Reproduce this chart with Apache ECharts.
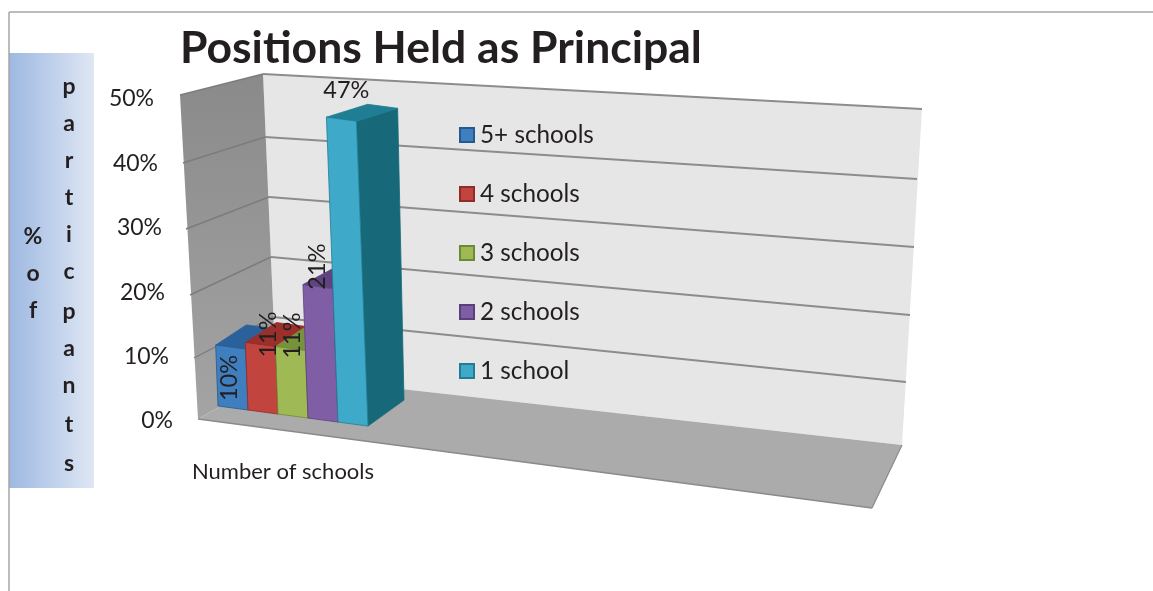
<!DOCTYPE html>
<html>
<head>
<meta charset="utf-8">
<style>html,body{margin:0;padding:0;background:#fff}#c{width:1153px;height:591px}</style>
<script src="https://cdn.jsdelivr.net/npm/echarts@6/dist/echarts.min.js"></script>
</head>
<body>
<div id="c"></div>
<script>
// ---- data ----
const categories = ['5+ schools', '4 schools', '3 schools', '2 schools', '1 school'];
const percentValues = [10, 11, 11, 21, 47];
const tickLabels = ['0%', '10%', '20%', '30%', '40%', '50%'];
const chartTitle = 'Positions Held as Principal';
const yTitleLeft = ['%', 'o', 'f'];
const yTitleRight = ['p', 'a', 'r', 't', 'i', 'c', 'p', 'a', 'n', 't', 's'];
const xTitle = 'Number of schools';

// ---- style ----
const FONT = 'Lato, "Open Sans", sans-serif';
const INK = '#231f20';
const palette = [
  { front: '#3f7fbf', top: '#2b619b', side: '#2b619b', edge: '#25598f' },
  { front: '#c2443f', top: '#9b2f2c', side: '#9b2f2c', edge: '#8f2b28' },
  { front: '#9fba55', top: '#76923c', side: '#76923c', edge: '#6c8a35' },
  { front: '#7f5ea6', top: '#5f4481', side: '#5f4481', edge: '#5a3f7d' },
  { front: '#3ea9c8', top: '#1f7d94', side: '#176979', edge: '#1f7d94' }
];
const labelNudge = [[-1, 31], [8, -10], [2, -13], [-1, -20], [5, -29]];
const labelTurn = [Math.PI / 2, Math.PI / 2, Math.PI / 2, Math.PI / 2, 0];
const axisNudge = { 0: 45, 10: 49, 20: 53, 30: 56, 40: 60, 50: 64 };

// chart chrome: the oblique box the columns stand in
const wallFront = [[198, 419], [194, 358], [190, 295], [186, 229], [183, 163], [180, 95]];
const wallBack = [[276, 375], [273, 317], [271, 257], [269, 197], [265, 137], [263, 74]];
const wallRight = [[902, 445], [906, 382], [910, 315], [914, 247], [917, 179], [922, 109]];
const floorCorner = [872, 508];

const GRID = { left: 218, top: 97, width: 150, height: 322 };
const SLOPE = 0.134, LIFT = -13, LEAN = 0.038, HEIGHT_GAIN = 1.024, HEIGHT_TRIM = 5;

function renderBar(i) {
  return function (params, api) {
    const c = palette[i];
    const base = api.coord([i, 0]);
    const topP = api.coord([i, api.value(1)]);
    const w = api.size([1, 0])[0];
    const h = (base[1] - topP[1]) * HEIGHT_GAIN - HEIGHT_TRIM;
    const pt = function (gx, height) {
      return [gx - LEAN * height, base[1] + LIFT + SLOPE * (gx - GRID.left) - height];
    };
    const dBottom = [36, -26];
    const dTop = [28 + 13 * h / 300, -22 + 9 * h / 300];
    const l = base[0] - w / 2, r = base[0] + w / 2;
    const add = function (p, v) { return [p[0] + v[0], p[1] + v[1]]; };
    const a = pt(l, 0), b = pt(r, 0), e = pt(r, h), f = pt(l, h);
    const poly = function (points, fill, stroke, z2) {
      return {
        type: 'polygon', z2: z2,
        shape: { points: points },
        style: { fill: fill, stroke: stroke, lineWidth: 0.8 }
      };
    };
    const nudge = labelNudge[i];
    return {
      type: 'group',
      children: [
        poly([b, add(b, dBottom), add(e, dTop), e], c.side, c.side, 3 * i),
        poly([f, e, add(e, dTop), add(f, dTop)], c.top, c.top, 3 * i + 1),
        poly([a, b, e, f], c.front, c.edge, 3 * i + 2),
        {
          type: 'text', z2: 100,
          x: (f[0] + e[0]) / 2 + nudge[0],
          y: (f[1] + e[1]) / 2 + nudge[1],
          rotation: labelTurn[i],
          style: {
            text: api.value(1) + '%',
            fill: INK,
            font: '23.5px ' + FONT,
            align: 'center',
            verticalAlign: 'middle'
          }
        }
      ]
    };
  };
}

function flat(points) { return { points: points }; }
function line(a, b, color, width) {
  return { type: 'polyline', z: 0, shape: flat([a, b]), style: { stroke: color, lineWidth: width, fill: null } };
}
function stackText(letters, x, y0, gaps) {
  return letters.map(function (ch, k) {
    return {
      type: 'text', z: 1, x: x, y: gaps[k] + y0,
      style: { text: ch, fill: INK, font: 'bold 23px ' + FONT, align: 'center', verticalAlign: 'middle' }
    };
  });
}

const TOP = wallFront.length - 1;
const chrome = [
  { type: 'rect', z: 0, shape: { x: 9, y: 53, width: 85, height: 435 },
    style: { fill: new echarts.graphic.LinearGradient(0, 0, 1, 0, [
      { offset: 0, color: '#9db8e1' }, { offset: 1, color: '#dfe7f4' }]) } },
  line([9, 12], [1153, 12], '#a6a6a6', 1.5),
  line([9, 12], [9, 591], '#a6a6a6', 1.5),
  { type: 'polygon', z: 0, shape: flat([wallBack[TOP], wallRight[TOP], wallRight[0], wallBack[0]]),
    style: { fill: '#e6e6e6' } },
  { type: 'polygon', z: 0, shape: flat([wallFront[TOP], wallBack[TOP], wallBack[0], wallFront[0]]),
    style: { fill: new echarts.graphic.LinearGradient(0, 0, 0, 1, [
      { offset: 0, color: '#8a8a8a' }, { offset: 1, color: '#a4a4a4' }]) } },
  { type: 'polygon', z: 0, shape: flat([wallFront[0], wallBack[0], wallRight[0], floorCorner]),
    style: { fill: '#ababab' } },
  line(wallFront[0], floorCorner, '#8a8a8a', 1.6),
  line(wallRight[0], floorCorner, '#8a8a8a', 1.2)
];
wallFront.forEach(function (p, k) {
  if (k > 0) {
    chrome.push(line(wallFront[k], wallBack[k], '#7c7c7c', 1.4));
    chrome.push(line(wallBack[k], wallRight[k], '#8c8c8c', 1.8));
  }
});
const chromeAll = chrome
  .concat(stackText(yTitleLeft, 33, 237, [0, 37, 74]))
  .concat(stackText(yTitleRight, 69, 87, [0, 37, 74, 111, 148, 185, 225, 262, 299, 338, 377]));

const spacers = {};
Object.keys(axisNudge).forEach(function (k) {
  spacers['s' + k] = { width: axisNudge[k] - 45, height: 1 };
});

const chart = echarts.init(document.getElementById('c'), null, { renderer: 'canvas' });
chart.setOption({
  backgroundColor: '#fff',
  animation: false,
  title: {
    text: chartTitle, left: 175, top: 21,
    textStyle: { color: INK, fontFamily: FONT, fontWeight: 'bold', fontSize: 44.5 }
  },
  legend: {
    data: categories,
    orient: 'vertical', left: 454, top: 118, itemWidth: 14, itemHeight: 14, itemGap: 35,
    icon: 'rect',
    textStyle: { color: INK, fontFamily: FONT, fontSize: 24.3, padding: [0, 0, 0, 1] },
    selectedMode: false
  },
  grid: GRID,
  xAxis: {
    type: 'category', data: categories,
    axisLine: { show: false }, axisTick: { show: false }, axisLabel: { show: false }, splitLine: { show: false },
    name: xTitle, nameLocation: 'middle', nameGap: 42,
    nameTextStyle: { color: INK, fontFamily: FONT, fontSize: 22, padding: [0, 20, 0, 0] }
  },
  yAxis: {
    type: 'value', min: 0, max: 50, interval: 10,
    axisLine: { show: false }, axisTick: { show: false }, splitLine: { show: false },
    axisLabel: {
      margin: 45, color: INK, fontFamily: FONT, fontSize: 23, padding: [4, 0, 0, 0],
      formatter: function (v) { return tickLabels[v / 10] + '{s' + v + '|}'; },
      rich: spacers
    }
  },
  graphic: { elements: chromeAll },
  series: categories.map(function (name, i) {
    const c = palette[i];
    return {
      name: name, type: 'custom', z: 2,
      clip: false,
      itemStyle: { color: c.front, borderColor: c.edge, borderWidth: 1.5 },
      encode: { x: 0, y: 1 },
      data: [[i, percentValues[i]]],
      renderItem: renderBar(i)
    };
  })
});
</script>
</body>
</html>
